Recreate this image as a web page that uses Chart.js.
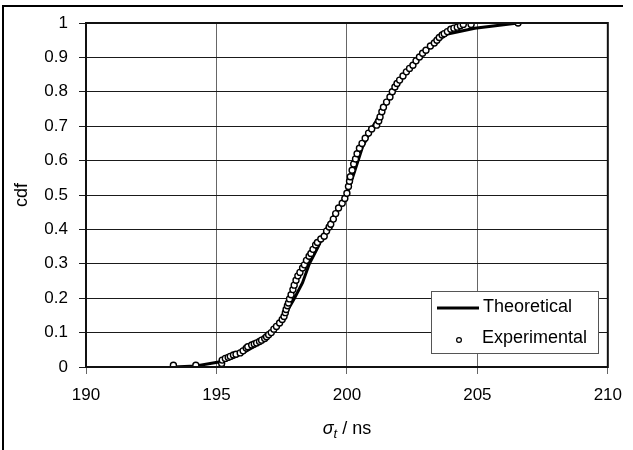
<!DOCTYPE html>
<html><head><meta charset="utf-8">
<script src="https://cdn.jsdelivr.net/npm/chart.js@4.4.1/dist/chart.umd.min.js"></script>
<style>html,body{margin:0;padding:0;background:#fff;}canvas{display:block}</style>
</head><body>
<canvas id="c" width="633" height="450"></canvas>
<script>
// ---- data ----
const seriesLabels = ['Theoretical', 'Experimental'];
const yTitle = 'cdf';
const xTitleParts = ['σ', 't', ' / ns'];
const xTickValues = [190, 195, 200, 205, 210];
const yTickValues = [0, 0.1, 0.2, 0.3, 0.4, 0.5, 0.6, 0.7, 0.8, 0.9, 1];

const expX = [193.35,194.21,195.20,195.22,195.34,195.45,195.53,195.65,195.75,195.91,196.02,196.14,196.20,196.35,196.45,196.54,196.65,196.73,196.85,196.92,197.00,197.10,197.20,197.30,197.42,197.52,197.59,197.64,197.67,197.72,197.76,197.80,197.86,197.93,197.98,198.05,198.12,198.20,198.30,198.37,198.45,198.55,198.62,198.70,198.80,198.87,199.00,199.13,199.22,199.32,199.38,199.48,199.57,199.68,199.82,199.92,200.00,200.06,200.10,200.13,200.20,200.26,200.33,200.39,200.48,200.58,200.70,200.83,200.95,201.14,201.22,201.27,201.34,201.40,201.52,201.65,201.74,201.84,201.92,202.02,202.15,202.28,202.40,202.53,202.65,202.78,202.90,203.03,203.20,203.35,203.45,203.54,203.65,203.73,203.85,203.98,204.10,204.23,204.35,204.46,204.76,206.56];
const expY = [0.005,0.005,0.010,0.020,0.025,0.028,0.031,0.035,0.037,0.041,0.047,0.055,0.059,0.064,0.067,0.070,0.074,0.078,0.083,0.088,0.094,0.100,0.110,0.118,0.128,0.138,0.147,0.158,0.167,0.178,0.186,0.198,0.210,0.225,0.238,0.252,0.265,0.275,0.288,0.297,0.310,0.322,0.330,0.342,0.355,0.362,0.372,0.380,0.395,0.407,0.415,0.430,0.446,0.462,0.476,0.490,0.505,0.525,0.540,0.553,0.572,0.590,0.605,0.620,0.636,0.650,0.665,0.680,0.692,0.703,0.715,0.727,0.742,0.755,0.770,0.785,0.800,0.814,0.824,0.834,0.846,0.858,0.868,0.877,0.890,0.901,0.912,0.921,0.933,0.942,0.950,0.958,0.965,0.969,0.975,0.982,0.985,0.988,0.992,0.996,0.996,1.000];

const theoX = [193.35,194.21,195.20,195.60,196.00,196.50,197.00,197.50,197.99,198.30,198.56,198.90,199.20,199.60,200.00,200.30,200.60,201.00,201.40,201.80,202.20,202.60,203.00,203.50,203.86,204.90,206.56];
const theoY = [0.000,0.003,0.016,0.026,0.040,0.062,0.093,0.135,0.200,0.245,0.300,0.350,0.400,0.452,0.502,0.570,0.640,0.700,0.750,0.805,0.850,0.885,0.918,0.952,0.968,0.985,1.000];

const FONT = '"Liberation Sans", Arial, sans-serif';

const decorPlugin = {
  id: 'decor',
  afterDraw(chart) {
    const ctx = chart.ctx;
    const ca = chart.chartArea;
    ctx.save();
    // plot-area frame
    ctx.strokeStyle = '#111';
    ctx.lineWidth = 2;
    ctx.strokeRect(ca.left, ca.top, ca.right - ca.left, ca.bottom - ca.top);
    // outer chart frame (left and top visible)
    ctx.strokeStyle = '#000';
    ctx.lineWidth = 2;
    ctx.beginPath();
    ctx.moveTo(3, 450);
    ctx.lineTo(3, 6);
    ctx.lineTo(623, 6);
    ctx.stroke();

    // x-axis title with italic sigma and subscript t
    const cx = (ca.left + ca.right) / 2;
    const baseY = 434;
    ctx.fillStyle = '#000';
    ctx.textBaseline = 'alphabetic';
    ctx.textAlign = 'left';
    const f1 = 'italic 18px ' + FONT, f2 = 'italic 13px ' + FONT, f3 = '18px ' + FONT;
    ctx.font = f1; const w1 = ctx.measureText(xTitleParts[0]).width;
    ctx.font = f2; const w2 = ctx.measureText(xTitleParts[1]).width;
    ctx.font = f3; const w3 = ctx.measureText(xTitleParts[2]).width;
    let x = cx - (w1 + w2 + w3) / 2;
    ctx.font = f1; ctx.fillText(xTitleParts[0], x, baseY); x += w1;
    ctx.font = f2; ctx.fillText(xTitleParts[1], x, baseY + 4); x += w2;
    ctx.font = f3; ctx.fillText(xTitleParts[2], x, baseY);

    // legend box
    const lx = 431, ly = 291, lw = 167, lh = 62;
    ctx.fillStyle = '#fff';
    ctx.fillRect(lx, ly, lw, lh);
    ctx.strokeStyle = '#555';
    ctx.lineWidth = 1;
    ctx.strokeRect(lx + 0.5, ly + 0.5, lw, lh);
    const dsT = chart.data.datasets.find(d => d.label === seriesLabels[0]);
    const dsE = chart.data.datasets.find(d => d.label === seriesLabels[1]);
    // line sample
    ctx.strokeStyle = dsT.borderColor;
    ctx.lineWidth = dsT.borderWidth;
    ctx.beginPath();
    ctx.moveTo(437, 308);
    ctx.lineTo(479, 308);
    ctx.stroke();
    // marker sample
    ctx.fillStyle = '#fff';
    ctx.strokeStyle = '#000';
    ctx.lineWidth = 1.2;
    ctx.beginPath();
    ctx.arc(459, 340, 2.4, 0, Math.PI * 2);
    ctx.fill();
    ctx.stroke();
    // labels
    ctx.fillStyle = '#000';
    ctx.font = '18px ' + FONT;
    ctx.textBaseline = 'alphabetic';
    ctx.fillText(dsT.label, 483, 312);
    ctx.fillText(dsE.label, 482, 343);
    ctx.restore();
  }
};

new Chart(document.getElementById('c'), {
  type: 'scatter',
  data: {
    datasets: [
      {
        label: seriesLabels[1],
        data: expX.map((x, i) => ({ x: x, y: expY[i] })),
        showLine: false,
        pointRadius: 3,
        pointBackgroundColor: '#fff',
        pointBorderColor: '#000',
        pointBorderWidth: 1.4,
        order: 0
      },
      {
        label: seriesLabels[0],
        data: theoX.map((x, i) => ({ x: x, y: theoY[i] })),
        showLine: true,
        borderColor: '#000',
        borderWidth: 3,
        pointRadius: 0,
        tension: 0,
        order: 1
      }
    ]
  },
  options: {
    responsive: false,
    animation: false,
    devicePixelRatio: 1,
    layout: { padding: { top: 23, right: 19, left: 0, bottom: 0 } },
    plugins: { legend: { display: false }, tooltip: { enabled: false } },
    scales: {
      x: {
        type: 'linear',
        min: xTickValues[0],
        max: xTickValues[xTickValues.length - 1],
        afterBuildTicks: s => { s.ticks = xTickValues.map(v => ({ value: v })); },
        afterFit: s => { s.height = 83; },
        ticks: { font: { family: FONT, size: 17 }, color: '#000', padding: 11, maxRotation: 0, autoSkip: false },
        grid: { color: '#666', lineWidth: 1, tickLength: 7, tickColor: '#666' },
        border: { display: true, color: '#000', width: 2 }
      },
      y: {
        type: 'linear',
        min: 0,
        max: 1,
        afterBuildTicks: s => { s.ticks = yTickValues.map(v => ({ value: v })); },
        afterFit: s => { s.width = 86; },
        ticks: { font: { family: FONT, size: 17 }, color: '#000', padding: 11, autoSkip: false,
                 callback: v => String(+Number(v).toFixed(1)) },
        grid: { color: '#1a1a1a', lineWidth: 1, tickLength: 7, tickColor: '#1a1a1a' },
        border: { display: true, color: '#000', width: 2 },
        title: { display: true, text: yTitle, color: '#000', font: { family: FONT, size: 18 }, padding: { top: 11 } }
      }
    }
  },
  plugins: [decorPlugin]
});
</script>
</body></html>
